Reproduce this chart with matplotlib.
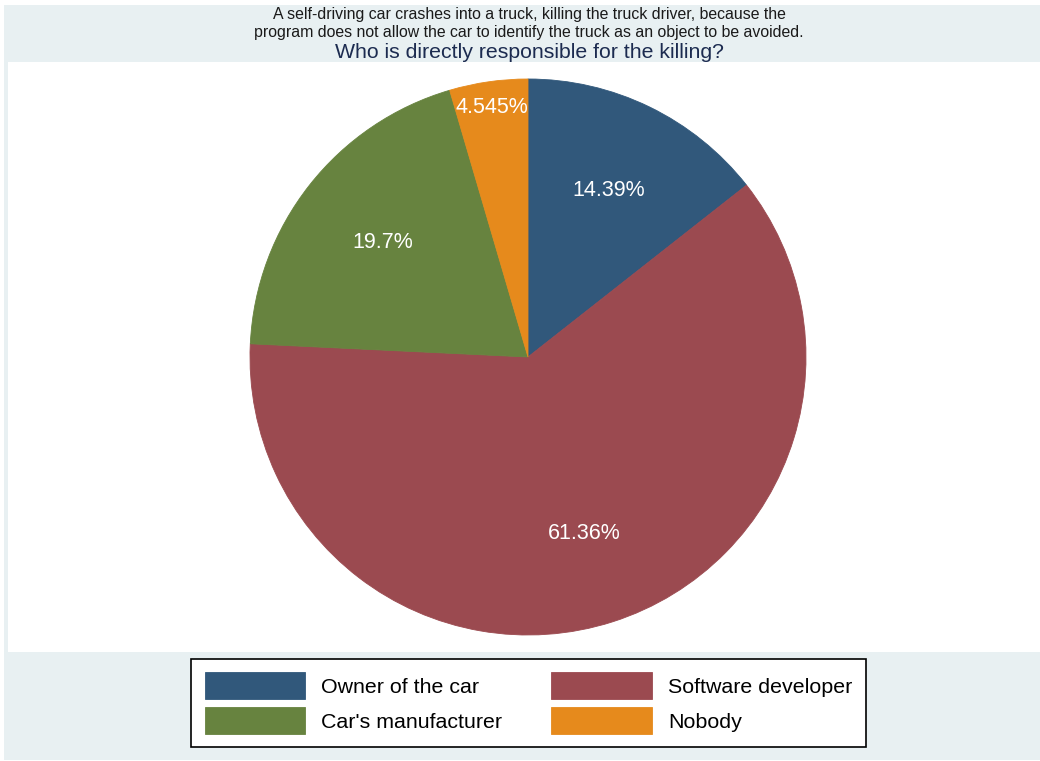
import matplotlib
matplotlib.use("Agg")
import numpy as np
from matplotlib import pyplot as plt
from matplotlib.patches import Rectangle

plt.rcParams['font.family'] = ['Liberation Sans', 'DejaVu Sans']

# survey answers (counts) -> shares
categories = ["Owner of the car", "Software developer", "Car's manufacturer", "Nobody"]
counts = [19, 81, 26, 6]
colors = ['#31587b', '#9b4a50', '#67833f', '#e68a1c']

subtitle1 = "A self-driving car crashes into a truck, killing the truck driver, because the"
subtitle2 = "program does not allow the car to identify the truck as an object to be avoided."
title = "Who is directly responsible for the killing?"

W, H = 1040, 761
fig = plt.figure(figsize=(W / 100, H / 100), dpi=100, facecolor='white')

# light blue outer region (Stata style)
fig.patches.append(Rectangle((4 / W, 1 - 760 / H), (W - 4) / W, 755 / H,
                             transform=fig.transFigure, facecolor='#e8f0f2',
                             edgecolor='none', zorder=-5))

# white plot region
ax = fig.add_axes([8 / W, 1 - 652 / H, 1032 / W, 590 / H])
ax.set_zorder(1)

wedges, texts, autotexts = ax.pie(
    counts, colors=colors, startangle=90, counterclock=False,
    autopct=lambda p: ('%.4g%%' % p), pctdistance=0.665,
    wedgeprops=dict(linewidth=0.6),
    textprops=dict(color='white', fontsize=15.5))
for w, c in zip(wedges, colors):
    w.set_edgecolor(c)

ax.set_frame_on(True)
ax.set_facecolor('white')
for s in ax.spines.values():
    s.set_visible(False)
ax.set_xticks([])
ax.set_yticks([])

# small slice label sits further out
w = wedges[3]
mid = np.deg2rad((w.theta1 + w.theta2) / 2)
autotexts[3].set_position((0.905 * np.cos(mid), 0.905 * np.sin(mid)))

ax.set_xlim((8 - 528) / 278, (1040 - 528) / 278)
ax.set_ylim(-(652 - 357) / 278, (357 - 62) / 278)
ax.set_aspect('auto')

fig.text(529 / W, 1 - 15 / H, subtitle1, ha='center', va='center',
         fontsize=11.4, color='#1a1a1a')
fig.text(529 / W, 1 - 32 / H, subtitle2, ha='center', va='center',
         fontsize=11.4, color='#1a1a1a')
fig.text(529 / W, 1 - 53 / H, title, ha='center', va='center',
         fontsize=15.3, color='#1c2b50')

# legend is filled row by row in the original
order = [0, 2, 1, 3]
leg = fig.legend([wedges[i] for i in order], [categories[i] for i in order],
                 loc='center', bbox_to_anchor=(528.5 / W, 1 - 703 / H), ncol=2,
                 fontsize=15.4, frameon=True, fancybox=False, framealpha=1,
                 handlelength=4.7, handleheight=1.5, handletextpad=0.75,
                 columnspacing=2.3, labelspacing=0.42, borderpad=0.62)
leg.get_frame().set_edgecolor('black')
leg.get_frame().set_linewidth(1.2)
leg.get_frame().set_facecolor('white')

fig.savefig('out.png', dpi=100, facecolor=fig.get_facecolor())
